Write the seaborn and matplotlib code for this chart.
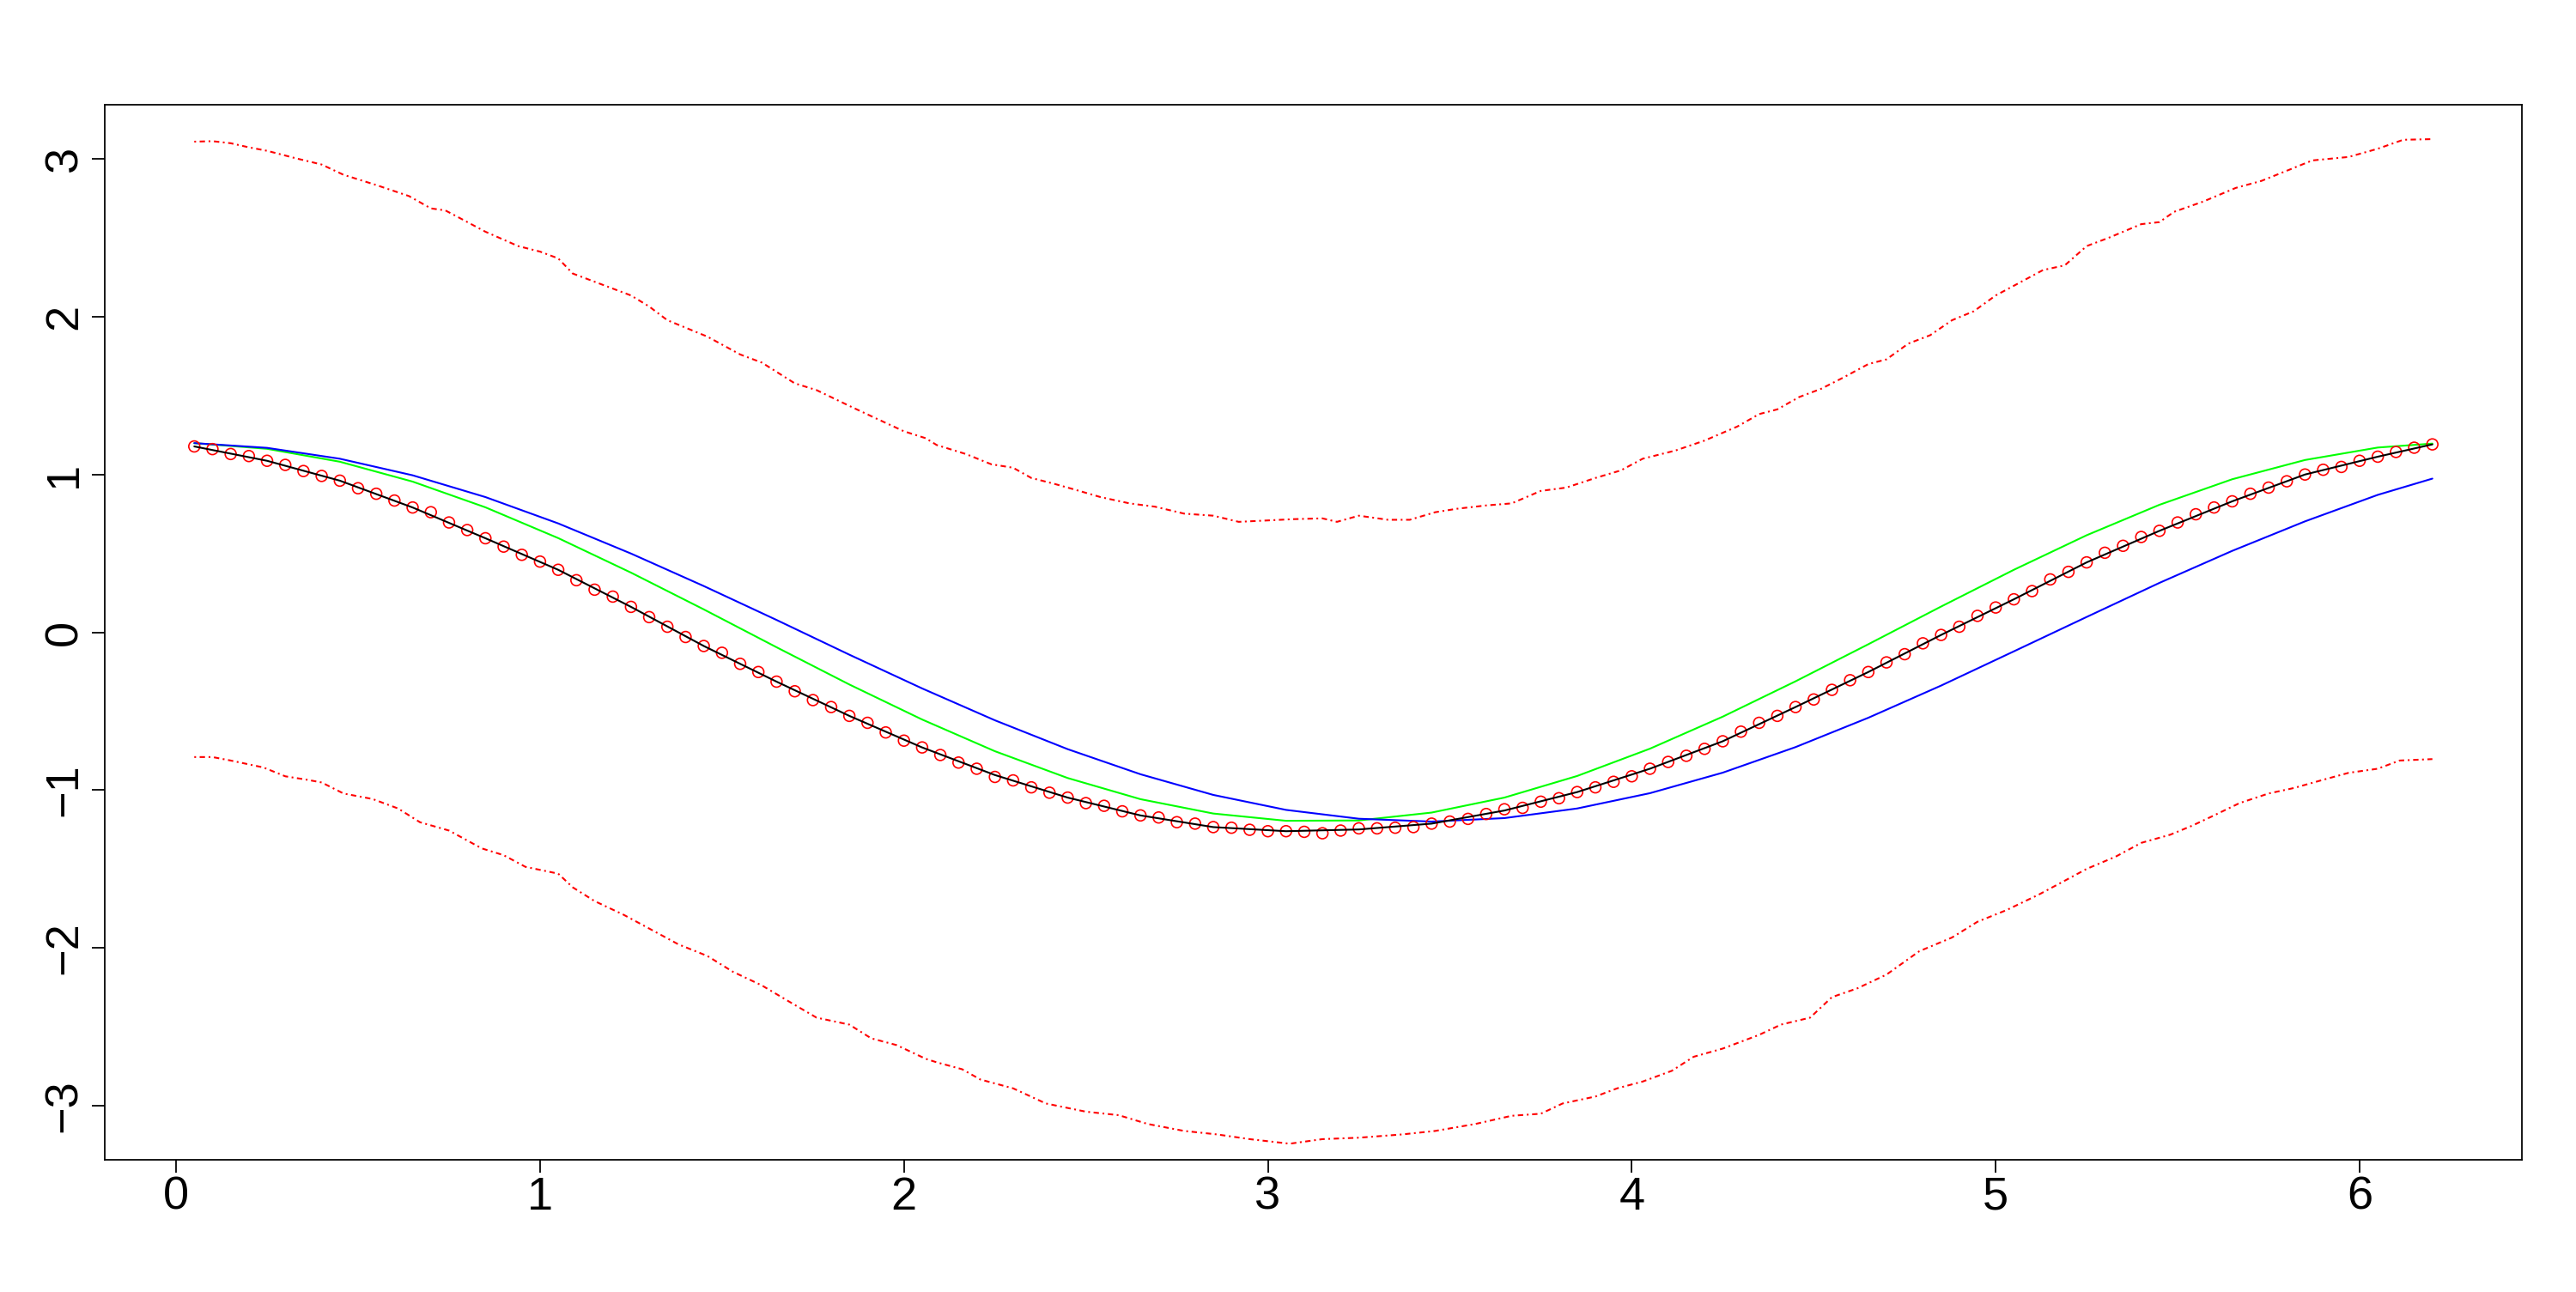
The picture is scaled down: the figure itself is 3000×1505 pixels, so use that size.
import numpy as np
import pandas as pd
import seaborn as sns
import matplotlib
matplotlib.use("Agg")
import matplotlib.pyplot as plt

# observed points (red circles), x = 0.05 .. 6.20 by 0.05
obs_x = np.round(np.arange(1, 125) * 0.05, 2)
obs_y = [1.178, 1.161, 1.130, 1.117, 1.087, 1.061, 1.022, 0.991, 0.961, 0.913,
         0.878, 0.835, 0.791, 0.761, 0.696, 0.648, 0.596, 0.543, 0.491, 0.448,
         0.396, 0.330, 0.270, 0.226, 0.161, 0.096, 0.035, -0.030, -0.087, -0.130,
         -0.200, -0.252, -0.313, -0.374, -0.430, -0.474, -0.530, -0.574, -0.635, -0.687,
         -0.730, -0.778, -0.826,
         -0.865, -0.917, -0.939, -0.983, -1.017, -1.048, -1.083, -1.100, -1.135, -1.161,
         -1.174, -1.204, -1.213, -1.235, -1.239, -1.252, -1.261, -1.261, -1.265, -1.274,
         -1.257, -1.243, -1.243, -1.239, -1.235, -1.213, -1.200, -1.183, -1.152, -1.122,
         -1.113, -1.074, -1.052, -1.013, -0.983, -0.948, -0.913, -0.865,
         -0.822, -0.783, -0.739, -0.691, -0.630, -0.574, -0.530, -0.474, -0.426, -0.365,
         -0.304, -0.252, -0.191, -0.139, -0.070, -0.017, 0.035, 0.104, 0.157, 0.209,
         0.261, 0.335, 0.383, 0.443, 0.504, 0.548, 0.604, 0.643, 0.696, 0.748,
         0.791, 0.830, 0.878, 0.917, 0.957, 1.000, 1.030, 1.048, 1.087, 1.113,
         1.143, 1.170, 1.191]

# smooth curves read every 0.2
curve_x = [0.05, 0.25, 0.45, 0.65, 0.85, 1.05, 1.25, 1.45, 1.65, 1.85, 2.05,
           2.25, 2.45, 2.65, 2.85, 3.05, 3.25, 3.45, 3.65, 3.85, 4.05, 4.25,
           4.45, 4.65, 4.85, 5.05, 5.25, 5.45, 5.65, 5.85, 6.05, 6.2]
fit_black = [1.178, 1.087, 0.961, 0.791, 0.596, 0.396, 0.161, -0.087, -0.313, -0.530, -0.730,
             -0.905, -1.048, -1.161, -1.235, -1.261, -1.250, -1.213, -1.130, -1.013, -0.865, -0.691,
             -0.474, -0.252, -0.017, 0.209, 0.443, 0.643, 0.830, 1.000, 1.113, 1.191]
true_green = [1.199, 1.163, 1.081, 0.955, 0.792, 0.597, 0.378, 0.145, -0.095, -0.331, -0.553,
              -0.754, -0.924, -1.058, -1.149, -1.195, -1.193, -1.143, -1.048, -0.911, -0.738, -0.535,
              -0.311, -0.076, 0.163, 0.396, 0.615, 0.808, 0.970, 1.092, 1.171, 1.196]
alt_blue = [1.199, 1.169, 1.100, 0.995, 0.857, 0.690, 0.499, 0.293, 0.078, -0.142, -0.356,
            -0.558, -0.741, -0.900, -1.031, -1.126, -1.182, -1.200, -1.178, -1.117, -1.020, -0.890,
            -0.728, -0.542, -0.338, -0.121, 0.097, 0.313, 0.516, 0.703, 0.871, 0.974]

# upper / lower bands (red dot-dash)
up_x = [0.05, 0.10, 0.15, 0.20, 0.25, 0.33, 0.40, 0.46, 0.55, 0.64, 0.70, 0.74, 0.79, 0.85,
        0.94, 1.00, 1.05, 1.09, 1.15, 1.25, 1.30, 1.35, 1.46, 1.55, 1.61, 1.70, 1.76, 1.85,
        1.91, 2.00, 2.06, 2.09, 2.17, 2.24, 2.30, 2.35, 2.41, 2.47, 2.54, 2.62, 2.69, 2.77,
        2.85, 2.92, 3.00, 3.07, 3.15, 3.19, 3.25, 3.33, 3.39, 3.46, 3.52, 3.60, 3.67, 3.75,
        3.82, 3.90, 3.97, 4.03, 4.12, 4.20, 4.29, 4.35, 4.40, 4.46, 4.52, 4.58, 4.65, 4.70,
        4.76, 4.82, 4.88, 4.94, 5.00, 5.06, 5.13, 5.19, 5.25, 5.31, 5.40, 5.45, 5.49, 5.57,
        5.66, 5.73, 5.81, 5.87, 5.97, 6.05, 6.12, 6.20]
up_y = [3.110, 3.113, 3.100, 3.074, 3.052, 3.004, 2.965, 2.900, 2.835, 2.765, 2.687, 2.674, 2.613, 2.539,
        2.448, 2.413, 2.370, 2.274, 2.222, 2.135, 2.065, 1.978, 1.874, 1.761, 1.709, 1.578, 1.535, 1.435,
        1.370, 1.274, 1.230, 1.187, 1.130, 1.065, 1.043, 0.978, 0.943, 0.904, 0.857, 0.817, 0.796, 0.752,
        0.739, 0.700, 0.709, 0.717, 0.722, 0.700, 0.739, 0.713, 0.713, 0.761, 0.783, 0.804, 0.817, 0.896,
        0.917, 0.978, 1.026, 1.100, 1.152, 1.215, 1.304, 1.383, 1.413, 1.491, 1.543, 1.613, 1.700, 1.730,
        1.830, 1.883, 1.978, 2.035, 2.135, 2.209, 2.296, 2.326, 2.448, 2.500, 2.587, 2.600, 2.665, 2.730,
        2.817, 2.861, 2.935, 2.991, 3.013, 3.065, 3.122, 3.126]
lo_x = [0.05, 0.10, 0.15, 0.24, 0.30, 0.36, 0.40, 0.46, 0.54, 0.61, 0.67, 0.75, 0.84, 0.90,
        0.96, 1.05, 1.09, 1.15, 1.23, 1.30, 1.38, 1.46, 1.53, 1.61, 1.68, 1.76, 1.85, 1.91,
        1.98, 2.06, 2.09, 2.16, 2.21, 2.30, 2.39, 2.50, 2.59, 2.67, 2.77, 2.86, 2.95, 3.06,
        3.15, 3.25, 3.37, 3.46, 3.57, 3.67, 3.75, 3.81, 3.90, 3.96, 4.03, 4.11, 4.17, 4.25,
        4.35, 4.41, 4.49, 4.55, 4.62, 4.70, 4.79, 4.88, 4.95, 5.03, 5.12, 5.18, 5.25, 5.33,
        5.40, 5.48, 5.54, 5.60, 5.67, 5.75, 5.82, 5.90, 5.97, 6.05, 6.11, 6.20]
lo_y = [-0.791, -0.791, -0.813, -0.857, -0.913, -0.935, -0.952, -1.022, -1.057, -1.117, -1.204, -1.257, -1.370, -1.413,
        -1.487, -1.530, -1.617, -1.704, -1.791, -1.878, -1.978, -2.052, -2.152, -2.239, -2.335, -2.443, -2.487, -2.574,
        -2.617, -2.704, -2.726, -2.770, -2.835, -2.891, -2.987, -3.039, -3.061, -3.117, -3.161, -3.183, -3.213, -3.242,
        -3.213, -3.204, -3.183, -3.161, -3.117, -3.065, -3.052, -2.987, -2.943, -2.891, -2.848, -2.780, -2.691, -2.639,
        -2.552, -2.487, -2.443, -2.313, -2.257, -2.170, -2.022, -1.935, -1.835, -1.761, -1.661, -1.587, -1.500, -1.422,
        -1.335, -1.283, -1.226, -1.161, -1.083, -1.022, -0.987, -0.935, -0.891, -0.865, -0.813, -0.804]

x_ticks = [0, 1, 2, 3, 4, 5, 6]
y_ticks = [-3, -2, -1, 0, 1, 2, 3]

sns.set_theme(style="white")
plt.rcParams['font.family'] = ['Liberation Sans', 'DejaVu Sans']

W, H = 3000, 1505
fig = plt.figure(figsize=(W / 150, H / 150), dpi=150)
ax = fig.add_axes([122 / W, (H - 1351) / H, (2937 - 122) / W, (1351 - 122) / H])

sns.scatterplot(x=obs_x, y=obs_y, ax=ax, marker='o', s=38, facecolors='none',
                edgecolor='red', linewidth=0.8, zorder=3)
sns.lineplot(x=curve_x, y=fit_black, ax=ax, color='black', lw=1.0, sort=False,
             estimator=None, zorder=4)
sns.lineplot(x=curve_x, y=true_green, ax=ax, color='#00FF00', lw=1.0, sort=False,
             estimator=None, zorder=2)
sns.lineplot(x=curve_x, y=alt_blue, ax=ax, color='#0000FF', lw=1.0, sort=False,
             estimator=None, zorder=2)
for bx, by in [(up_x, up_y), (lo_x, lo_y)]:
    sns.lineplot(x=bx, y=by, ax=ax, color='#FF0000', lw=1.0, sort=False,
                 estimator=None, zorder=2)
    ax.lines[-1].set_dashes([1.0, 2.0, 3.0, 2.0])

ax.set_xlim(-0.196, 6.446)
ax.set_ylim(-3.344, 3.344)
ax.set_xticks(x_ticks)
ax.set_yticks(y_ticks)
ax.set_xticklabels([str(t) for t in x_ticks])
ax.set_yticklabels(['\u2212' + str(-t) if t < 0 else str(t) for t in y_ticks],
                   rotation=90, va='center')
ax.tick_params(axis='both', direction='out', length=7, width=0.85,
               labelsize=26, color='black', labelcolor='black',
               bottom=True, left=True, top=False, right=False)
ax.tick_params(axis='x', pad=2)
ax.tick_params(axis='y', pad=3.5)
for sp in ax.spines.values():
    sp.set_visible(True)
    sp.set_color('black')
    sp.set_linewidth(0.85)
ax.set_xlabel('')
ax.set_ylabel('')
ax.grid(False)

fig.savefig('out.png', dpi=150, facecolor='white')
